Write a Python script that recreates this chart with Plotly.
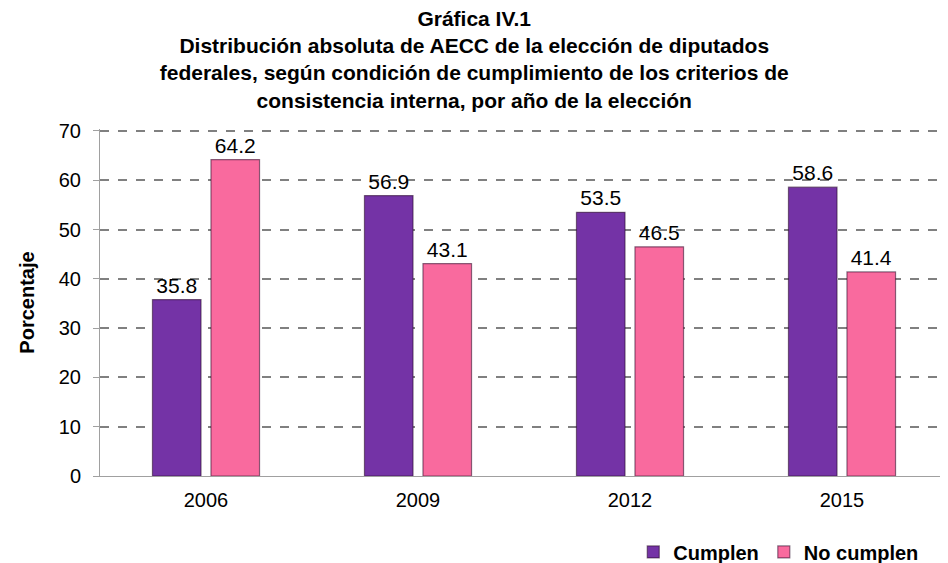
import plotly.graph_objects as go

# Datos de la gráfica IV.1
YEARS = ['2006', '2009', '2012', '2015']
CUMPLEN = [35.8, 56.9, 53.5, 58.6]
NO_CUMPLEN = [64.2, 43.1, 46.5, 41.4]
Y_TICKS = [0, 10, 20, 30, 40, 50, 60, 70]

COLORS = {
    'Cumplen': '#7433A6',
    'No cumplen': '#F96A9E'
}

FONT = "Liberation Sans, Arial, sans-serif"

fig = go.Figure()
for name, values in [('Cumplen', CUMPLEN), ('No cumplen', NO_CUMPLEN)]:
    fig.add_trace(go.Bar(
        x=YEARS,
        y=values,
        name=f"<b>{name}</b>",
        text=[f"{v:.1f}" for v in values],
        textposition='outside',
        textfont=dict(size=21, color='#000000', family=FONT),
        cliponaxis=False,
        marker=dict(color=COLORS[name], line=dict(color='rgba(40,10,40,0.55)', width=1.2))
    ))

# la página tiene un margen de 8px en el body, se compensa con el tamaño
fig.update_layout(
    width=940,
    height=555,
    plot_bgcolor='#FFFFFF',
    paper_bgcolor='#FFFFFF',
    font=dict(family=FONT, color='#000000'),
    margin=dict(l=92, r=0, t=121, b=87, autoexpand=False),
    barmode='group',
    bargap=0.448,
    bargroupgap=0.17,
    title=dict(
        text=("<b>Gráfica IV.1<br>Distribución absoluta de AECC de la elección de diputados<br>"
              "federales, según condición de cumplimiento de los criterios de<br>"
              "consistencia interna, por año de la elección</b>"),
        x=0.496,
        xanchor='center',
        yref='container',
        y=0.968,
        yanchor='top',
        font=dict(size=21, family=FONT, color='#000000')
    ),
    legend=dict(
        orientation='h',
        x=0.972,
        xanchor='right',
        yref='container',
        y=0.02,
        yanchor='middle',
        font=dict(size=20, family=FONT, color='#000000'),
        itemwidth=30,
        traceorder='normal'
    ),
    xaxis=dict(
        automargin=False,
        showline=True,
        linecolor='#A0A0A0',
        linewidth=1,
        ticks='',
        ticklabelstandoff=6,
        tickfont=dict(size=20, color='#000000'),
        showgrid=False
    ),
    yaxis=dict(
        automargin=False,
        range=[0, 70.4],
        tickvals=Y_TICKS,
        showline=True,
        linecolor='#A0A0A0',
        linewidth=1,
        ticks='outside',
        ticklen=6,
        tickcolor='#A0A0A0',
        ticklabelstandoff=8,
        tickfont=dict(size=20, color='#000000'),
        showgrid=True,
        gridcolor='#808080',
        gridwidth=1.5,
        griddash='dash',
        zeroline=False,
        title=dict(text='<b>Porcentaje</b>', font=dict(size=20, color='#000000'), standoff=18)
    )
)

fig.write_html("out.html")
